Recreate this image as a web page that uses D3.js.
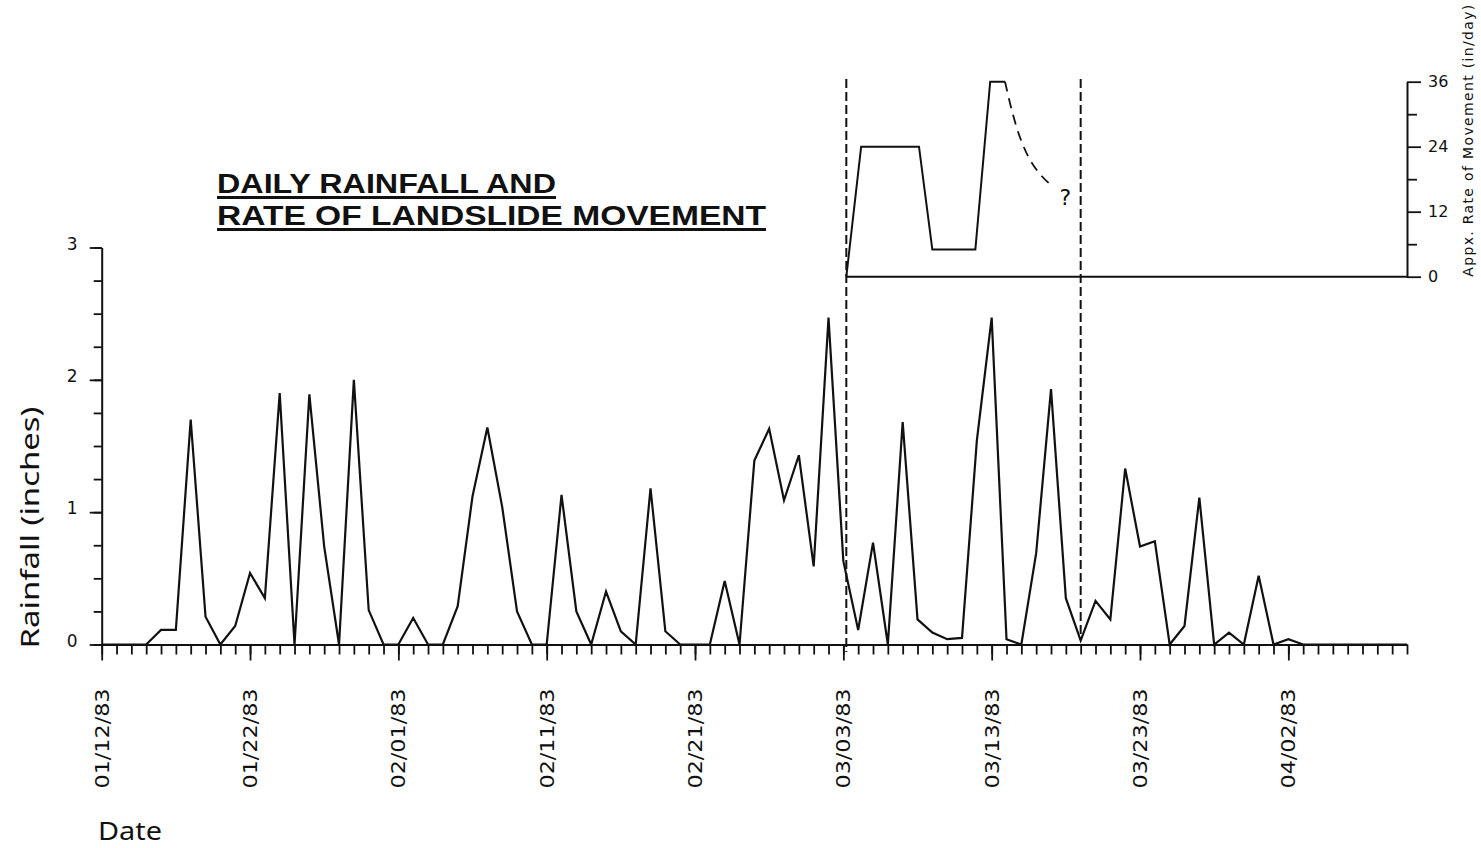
<!DOCTYPE html>
<html>
<head>
<meta charset="utf-8">
<script src="https://cdn.jsdelivr.net/npm/d3@7"></script>
<style>
  html, body { margin: 0; padding: 0; background: #fff; }
  svg { display: block; }
</style>
</head>
<body>
<svg id="chart" width="1481" height="848"></svg>
<script>
// Daily rainfall (inches), one value per day starting 01/12/83
const rainfall = [
  0, 0, 0, 0, 0.11, 0.11, 1.70, 0.21, 0, 0.14,
  0.54, 0.35, 1.90, 0, 1.89, 0.74, 0, 2.00, 0.26, 0,
  0, 0.20, 0, 0, 0.29, 1.12, 1.64, 1.04, 0.25, 0,
  0, 1.13, 0.25, 0, 0.40, 0.10, 0, 1.18, 0.10, 0,
  0, 0, 0.48, 0, 1.39, 1.63, 1.09, 1.43, 0.59, 2.47,
  0.63, 0.11, 0.77, 0, 1.68, 0.19, 0.09, 0.04, 0.05, 1.54,
  2.47, 0.04, 0, 0.69, 1.93, 0.35, 0.03, 0.33, 0.19, 1.33,
  0.74, 0.78, 0, 0.14, 1.11, 0, 0.09, 0, 0.52, 0,
  0.04, 0, 0, 0, 0, 0, 0, 0, 0
];
const dayCount = 88;                       // last day on the date axis (04/10/83)
const dateTickDays = [0, 10, 20, 30, 40, 50, 60, 70, 80];
const dateTickLabels = ["01/12/83", "01/22/83", "02/01/83", "02/11/83", "02/21/83",
                        "03/03/83", "03/13/83", "03/23/83", "04/02/83"];
const rainTicks = [0, 1, 2, 3];

// Approximate rate of landslide movement (in/day), day offsets from 01/12/83
const rateDays   = [50.2, 51.2, 55.1, 56.0, 58.9, 59.9, 60.9];
const rateValues = [0, 24, 24, 5, 5, 36, 36];
// uncertain decline after the peak (dashed)
const tailDays   = [60.9, 61.35, 61.9, 62.6, 63.4, 64.1];
const tailValues = [36, 30.8, 25.8, 21.5, 18.5, 16.7];
const rateTicks  = [0, 12, 24, 36];
const rateMinorTicks = [6, 18, 30];
// monitoring window boundaries
const windowDays = [50.2, 66.0];

const ink = "#111";
const svg = d3.select("#chart");

const x = d3.scaleLinear().domain([0, dayCount]).range([101.7, 1407]);
const y = d3.scaleLinear().domain([0, 3]).range([644.5, 247.5]);
const yRate = d3.scaleLinear().domain([0, 36]).range([276.7, 81.7]);

const plotFont = "'DejaVu Sans', 'Noto Sans', sans-serif";

function styleAxis(g) {
  g.attr("font-family", plotFont);
  g.selectAll("path.domain").attr("stroke", ink).attr("stroke-width", 2);
  g.selectAll(".tick line").attr("stroke", ink).attr("stroke-width", 1.8);
  g.selectAll(".tick text").attr("fill", ink);
}

// ---- Date axis: minor ticks every day, long ticks every 10 days
svg.append("g")
  .attr("transform", `translate(0,${y(0)})`)
  .call(d3.axisBottom(x).tickValues(d3.range(0, dayCount + 1)).tickSize(10)
        .tickSizeOuter(0).tickFormat(""))
  .call(styleAxis);

const xMajor = svg.append("g")
  .attr("transform", `translate(0,${y(0)})`)
  .call(d3.axisBottom(x).tickValues(dateTickDays).tickSize(16).tickSizeOuter(0)
        .tickFormat((d, i) => dateTickLabels[i]))
  .call(styleAxis);
xMajor.select("path.domain").remove();
xMajor.selectAll(".tick text")
  .attr("transform", "rotate(-90)")
  .attr("x", -44).attr("y", 0).attr("dy", "0.33em")
  .attr("text-anchor", "end")
  .attr("font-size", 20)
  .attr("textLength", 100)
  .attr("lengthAdjust", "spacingAndGlyphs");

// ---- Rainfall axis
svg.append("g")
  .attr("transform", `translate(${x(0)},0)`)
  .call(d3.axisLeft(y).tickValues(d3.range(0, 3.001, 0.25)).tickSize(8)
        .tickSizeOuter(0).tickFormat(""))
  .call(styleAxis);

const yMajor = svg.append("g")
  .attr("transform", `translate(${x(0)},0)`)
  .call(d3.axisLeft(y).tickValues(rainTicks).tickSize(12).tickPadding(12)
        .tickSizeOuter(0).tickFormat(d3.format("d")))
  .call(styleAxis);
yMajor.select("path.domain").remove();
yMajor.selectAll(".tick text").attr("font-size", 17).attr("dy", "0.1em");

// ---- Rainfall line
const rainLine = d3.line().x((d, i) => x(i)).y(d => y(d));
svg.append("path")
  .datum(rainfall)
  .attr("d", rainLine)
  .attr("fill", "none")
  .attr("stroke", ink)
  .attr("stroke-width", 2.2)
  .attr("stroke-linejoin", "miter");

// ---- Movement-rate panel
svg.append("line")
  .attr("x1", x(windowDays[0])).attr("x2", x(dayCount))
  .attr("y1", yRate(0)).attr("y2", yRate(0))
  .attr("stroke", ink).attr("stroke-width", 2);

svg.append("g")
  .attr("transform", `translate(${x(dayCount)},0)`)
  .call(d3.axisRight(yRate).tickValues(rateMinorTicks).tickSize(10)
        .tickSizeOuter(0).tickFormat(""))
  .call(styleAxis);

const rMajor = svg.append("g")
  .attr("transform", `translate(${x(dayCount)},0)`)
  .call(d3.axisRight(yRate).tickValues(rateTicks).tickSize(14).tickPadding(7)
        .tickSizeOuter(0).tickFormat(d3.format("d")))
  .call(styleAxis);
rMajor.select("path.domain").remove();
rMajor.selectAll(".tick text").attr("font-size", 16);

svg.append("text")
  .attr("transform", `translate(1468,${yRate(0)}) rotate(-90)`)
  .attr("dy", "0.35em")
  .attr("text-anchor", "start")
  .attr("font-family", plotFont)
  .attr("font-size", 14)
  .attr("textLength", 272)
  .attr("lengthAdjust", "spacing")
  .attr("fill", ink)
  .text("Appx. Rate of Movement (in/day)");

const rateLine = d3.line().x(d => x(d[0])).y(d => yRate(d[1]));
svg.append("path")
  .datum(d3.zip(rateDays, rateValues))
  .attr("d", rateLine)
  .attr("fill", "none")
  .attr("stroke", ink)
  .attr("stroke-width", 2);

svg.append("path")
  .datum(d3.zip(tailDays, tailValues))
  .attr("d", rateLine.curve(d3.curveCatmullRom))
  .attr("fill", "none")
  .attr("stroke", ink)
  .attr("stroke-width", 1.8)
  .attr("stroke-dasharray", "10,7");

svg.append("text")
  .attr("x", x(tailDays[tailDays.length - 1]) + 7)
  .attr("y", yRate(tailValues[tailValues.length - 1]) + 19)
  .attr("font-family", plotFont)
  .attr("font-size", 22)
  .attr("fill", ink)
  .text("?");

// window boundaries
svg.selectAll("line.window")
  .data(windowDays)
  .join("line")
  .attr("class", "window")
  .attr("x1", d => x(d)).attr("x2", d => x(d))
  .attr("y1", 79).attr("y2", (d, i) => i === 0 ? 652 : 640)
  .attr("stroke", ink)
  .attr("stroke-width", 2)
  .attr("stroke-dasharray", "9,4");

// ---- Titles and axis names
const title = svg.append("g")
  .attr("font-family", "'Liberation Sans', Arial, sans-serif")
  .attr("font-weight", "bold")
  .attr("font-size", 27)
  .attr("fill", ink);
const titleLines = [
  { text: "DAILY RAINFALL AND", y: 193, w: 339 },
  { text: "RATE OF LANDSLIDE MOVEMENT", y: 225, w: 549 }
];
titleLines.forEach(t => {
  title.append("text")
    .attr("x", 217).attr("y", t.y)
    .attr("textLength", t.w).attr("lengthAdjust", "spacingAndGlyphs")
    .text(t.text);
  title.append("rect")
    .attr("x", 217).attr("y", t.y + 3).attr("width", t.w).attr("height", 3);
});

svg.append("text")
  .attr("transform", `translate(30,${(405 + 650) / 2}) rotate(-90)`)
  .attr("dy", "0.35em")
  .attr("text-anchor", "middle")
  .attr("font-family", "'Noto Sans', 'DejaVu Sans', sans-serif")
  .attr("font-size", 25)
  .attr("textLength", 242)
  .attr("lengthAdjust", "spacingAndGlyphs")
  .attr("fill", ink)
  .text("Rainfall (inches)");

svg.append("text")
  .attr("x", 98).attr("y", 840)
  .attr("font-family", "'Noto Sans', 'DejaVu Sans', sans-serif")
  .attr("font-size", 26)
  .attr("textLength", 64)
  .attr("lengthAdjust", "spacingAndGlyphs")
  .attr("fill", ink)
  .text("Date");
</script>
</body>
</html>
